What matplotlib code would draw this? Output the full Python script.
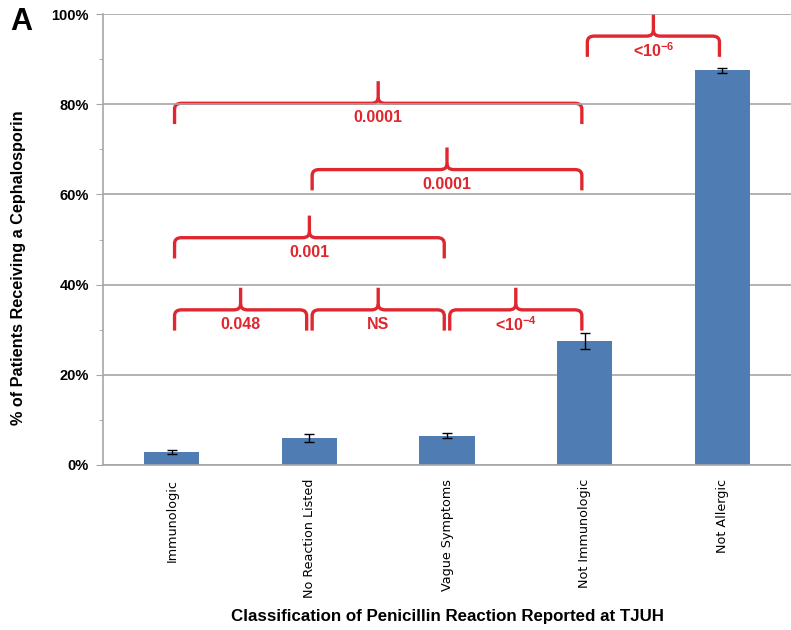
import matplotlib
matplotlib.use('Agg')
from matplotlib import pyplot as plt
from matplotlib.path import Path
from matplotlib.patches import PathPatch
from matplotlib.ticker import MultipleLocator, PercentFormatter

# data
categories = ['Immunologic', 'No Reaction Listed', 'Vague Symptoms', 'Not Immunologic', 'Not Allergic']
percent = [2.9, 6.0, 6.5, 27.5, 87.5]
err = [0.4, 0.8, 0.5, 1.7, 0.6]

# comparisons: (left bar, right bar, brace level in %, label)
pairs_left = [0, 1, 2, 0, 1, 0, 3]
pairs_right = [1, 2, 3, 2, 3, 3, 4]
brace_level = [34.4, 34.4, 34.4, 50.4, 65.5, 80.2, 95.1]
brace_text = ['0.048', 'NS', r'<10$^{\mathbf{-4}}$', '0.001', '0.0001', '0.0001', r'<10$^{\mathbf{-6}}$']

BLUE = '#4f7db3'
RED = '#e0262e'
GRID = '#a6a6a6'
FONT = ['Liberation Sans', 'DejaVu Sans']

plt.rcParams['font.family'] = FONT
plt.rcParams['mathtext.fontset'] = 'custom'
plt.rcParams['mathtext.rm'] = 'Liberation Sans'
plt.rcParams['mathtext.bf'] = 'Liberation Sans:bold'


def brace(ax, x0, x1, y, drop=4.6, rise=4.9):
    # curly bracket opening downward, apex in the middle
    xm = (x0 + x1) / 2
    rx = 0.05
    ry = 1.3
    verts = [
        (x0, y - drop), (x0, y - ry), (x0, y), (x0 + rx, y),
        (xm - rx, y), (xm, y), (xm, y + ry), (xm, y + rise),
    ]
    codes = [Path.MOVETO, Path.LINETO, Path.CURVE3, Path.CURVE3,
             Path.LINETO, Path.CURVE3, Path.CURVE3, Path.LINETO]
    verts2 = [
        (x1, y - drop), (x1, y - ry), (x1, y), (x1 - rx, y),
        (xm + rx, y), (xm, y), (xm, y + ry),
    ]
    codes2 = [Path.MOVETO, Path.LINETO, Path.CURVE3, Path.CURVE3,
              Path.LINETO, Path.CURVE3, Path.CURVE3]
    for v, c in [(verts, codes), (verts2, codes2)]:
        ax.add_patch(PathPatch(Path(v, c), fill=False, edgecolor=RED, lw=2.4,
                               capstyle='butt', joinstyle='round', clip_on=False))


def main():
    fig = plt.figure(figsize=(7.91, 6.30), dpi=100)
    ax = fig.add_axes([103 / 791, 165 / 630, 1 - 103 / 791, 451 / 630])

    x = range(len(categories))
    ax.bar(x, percent, width=0.4, color=BLUE, zorder=2)
    ax.errorbar(x, percent, yerr=err, fmt='none', ecolor='black', elinewidth=1,
                capsize=3.5, capthick=1, zorder=3)

    ax.set_xlim(-0.5, 4.5)
    ax.set_ylim(0, 100)
    ax.yaxis.set_major_locator(MultipleLocator(20))
    ax.yaxis.set_minor_locator(MultipleLocator(10))
    ax.yaxis.set_major_formatter(PercentFormatter(decimals=0))
    ax.grid(axis='y', which='major', color=GRID, lw=1.2, zorder=0)
    for s in ['top', 'right']:
        ax.spines[s].set_visible(False)
    for s in ['left', 'bottom']:
        ax.spines[s].set_color(GRID)
        ax.spines[s].set_linewidth(1.2)
    ax.tick_params(axis='y', which='major', length=5, color=GRID, labelsize=10.5, pad=5)
    ax.tick_params(axis='y', which='minor', length=3, color=GRID)
    ax.tick_params(axis='x', length=0, pad=10)
    for t in ax.get_yticklabels():
        t.set_fontweight('bold')

    ax.set_xticks(list(x))
    ax.set_xticklabels(categories, rotation=90, fontsize=9.2, family=['DejaVu Sans'],
                       va='top')

    for a, b, lev, txt in zip(pairs_left, pairs_right, brace_level, brace_text):
        x0 = a + 0.02
        x1 = b - 0.02
        brace(ax, x0, x1, lev)
        ax.text((x0 + x1) / 2, lev - 3.2, txt, color=RED, fontsize=11.5,
                fontweight='bold', ha='center', va='center')

    ax.set_ylabel('% of Patients Receiving a Cephalosporin', fontsize=11.7,
                  fontweight='bold')
    ax.yaxis.set_label_coords(-77 / 688, 0.437)
    fig.text(447 / 791, 1 - 617 / 630, 'Classification of Penicillin Reaction Reported at TJUH',
             fontsize=12.2, fontweight='bold', ha='center', va='center')
    fig.text(10 / 791, 1 - 22 / 630, 'A', fontsize=22, fontweight='bold',
             ha='left', va='center')

    fig.savefig('out.png', dpi=100)
    plt.close(fig)


main()
